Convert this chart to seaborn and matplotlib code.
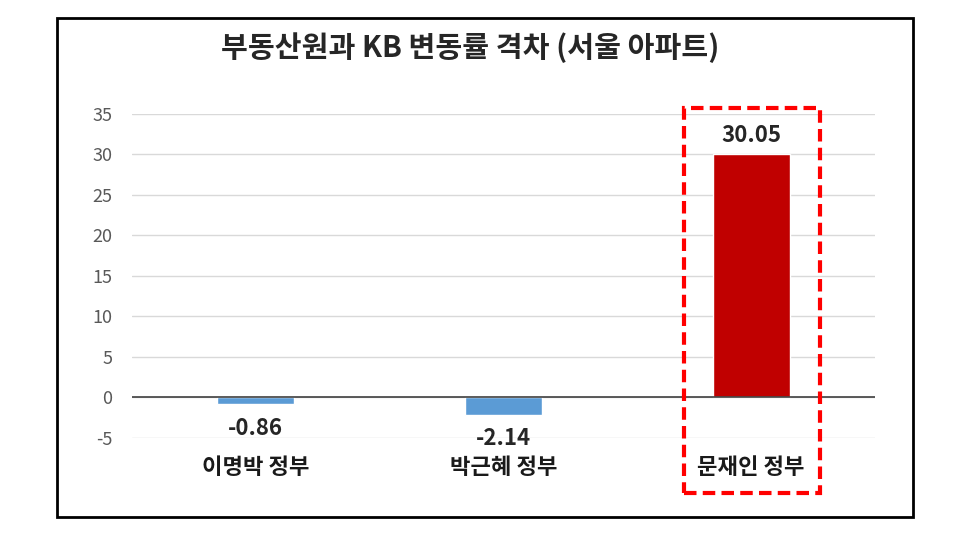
import matplotlib
matplotlib.use("Agg")
import matplotlib.pyplot as plt
import matplotlib.patches as mpatches
import seaborn as sns
import pandas as pd

title = "부동산원과 KB 변동률 격차 (서울 아파트)"
categories = ["이명박 정부", "박근혜 정부", "문재인 정부"]
values = [-0.86, -2.14, 30.05]
value_labels = ["-0.86", "-2.14", "30.05"]
yticks = [-5, 0, 5, 10, 15, 20, 25, 30, 35]
colors = ["#5B9BD5", "#5B9BD5", "#C00000"]

sns.set_theme(style="white")
plt.rcParams['font.family'] = ['Noto Sans CJK KR', 'DejaVu Sans']

df = pd.DataFrame({"cat": categories, "val": values})

fig = plt.figure(figsize=(9.6, 5.42), dpi=100)
ax = fig.add_axes([0.1375, 0.1919, 0.7740, 0.5978])
sns.barplot(data=df, x="cat", y="val", hue="cat", palette=colors, legend=False,
            width=0.31, ax=ax, saturation=1)

ax.set_ylim(-5, 35)
ax.set_yticks(yticks)
ax.set_yticklabels([str(t) for t in yticks], color="#595959", fontsize=13)
ax.set_xlim(-0.5, 2.5)
ax.yaxis.grid(True, color="#D9D9D9", linewidth=1)
ax.set_axisbelow(True)
for s in ax.spines.values():
    s.set_visible(False)
ax.axhline(0, color="#404040", linewidth=1.2, zorder=3)
ax.tick_params(axis="y", length=0, pad=14)
ax.tick_params(axis="x", length=0, pad=13)
ax.set_xlabel("")
ax.set_ylabel("")
for lbl in ax.get_xticklabels():
    lbl.set_fontsize(16)
    lbl.set_fontweight("bold")
    lbl.set_color("#1a1a1a")

for i, (v, t) in enumerate(zip(values, value_labels)):
    if v < 0:
        ax.annotate(t, (i, v), xytext=(0, -9), textcoords="offset points",
                    ha="center", va="top", fontsize=16, fontweight="bold")
    else:
        ax.annotate(t, (i, v), xytext=(0, 5), textcoords="offset points",
                    ha="center", va="bottom", fontsize=16, fontweight="bold")

fig.text(0.49, 0.913, title, ha="center", va="center", fontsize=21, fontweight="bold")

# outer frame
fig.patches.append(mpatches.Rectangle((57/960, 1-517/542), (913-57)/960, (517-18)/542,
                                      transform=fig.transFigure, fill=False,
                                      edgecolor="black", linewidth=2))
# red dashed highlight
fig.patches.append(mpatches.Rectangle((684/960, 1-493/542), (820-684)/960, (493-108)/542,
                                      transform=fig.transFigure, fill=False,
                                      edgecolor="#FF0000", linewidth=3, linestyle=(0, (3, 1.5))))

fig.savefig("out.png", dpi=100)
